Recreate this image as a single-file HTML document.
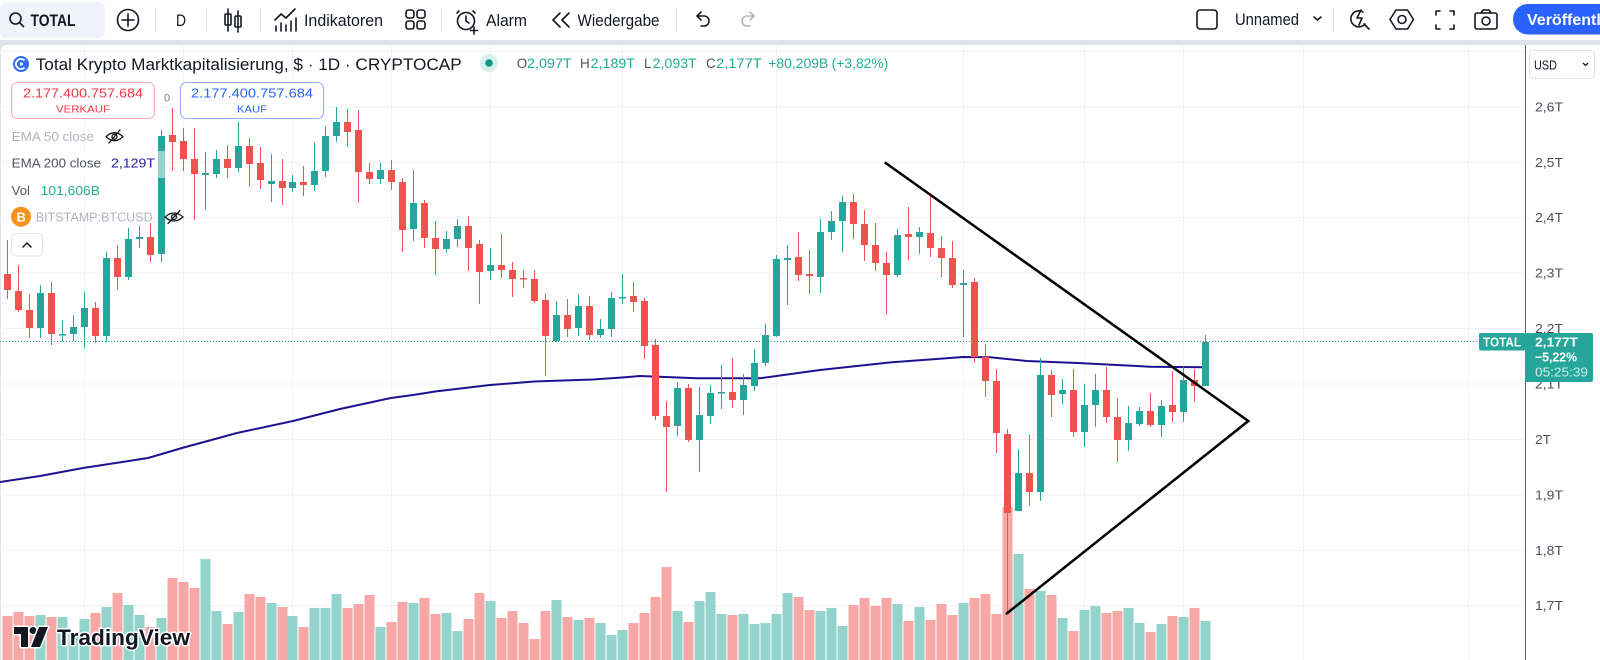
<!DOCTYPE html>
<html><head><meta charset="utf-8"><style>html,body{margin:0;padding:0;background:#fff;}svg{display:block}</style></head>
<body>
<svg width="1600" height="660" viewBox="0 0 1600 660" xmlns="http://www.w3.org/2000/svg" font-family="'Liberation Sans', Arial, sans-serif">
<rect width="1600" height="660" fill="#fff"/>
<rect y="40" width="1600" height="620" fill="#e0e3eb"/>
<rect x="1" y="45" width="1598" height="630" rx="6" fill="#fff"/>

<!-- toolbar -->
<rect x="0" y="2" width="105" height="36" rx="6" fill="#f0f3fa"/>
<g fill="none" stroke="#131722" stroke-width="1.6" stroke-linecap="round">
<circle cx="15.5" cy="18.5" r="5.5"/><path d="M19.5 22.5L23.5 26.5"/>
<circle cx="128" cy="20" r="10.5"/><path d="M128 14v12M122 20h12"/>
<path d="M228 9v22M238 11v21"/><rect x="225" y="14" width="6" height="11" rx="1"/><rect x="235" y="16" width="6" height="11" rx="1"/>
<path d="M275 20l6-6 5 4 9-9"/><path d="M276 31v-5M281 31v-8M286 31v-6M291 31v-10M296 31v-13"/>
<rect x="406" y="10" width="8" height="8" rx="2.5"/><rect x="417" y="10" width="8" height="8" rx="2.5"/><rect x="406" y="21" width="8" height="8" rx="2.5"/><rect x="417" y="21" width="8" height="8" rx="2.5"/>
<circle cx="466" cy="21" r="8.5"/><path d="M466 16v5l3 2M459 11l-2 2M473 11l2 2M474 27v7M470.5 30.5h7"/>
<path d="M560 13l-7 7 7 7M569 13l-7 7 7 7"/>
<path d="M697 16h7a5 5 0 0 1 0 10h-3M697 16l4-4M697 16l4 4"/>
</g>
<path d="M754 16h-7a5 5 0 0 0 0 10h3M754 16l-4-4M754 16l-4 4" fill="none" stroke="#b2b5be" stroke-width="1.6" stroke-linecap="round"/>
<g stroke="#e0e3eb" stroke-width="1"><path d="M155.5 8v24M206.5 8v24M260.5 8v24M441.5 8v24M676.5 8v24M1333.5 8v24"/></g>
<g fill="#131722" font-size="17">
<text x="30.5" y="26" font-weight="bold" textLength="45" lengthAdjust="spacingAndGlyphs">TOTAL</text>
<text x="176" y="26" textLength="10" lengthAdjust="spacingAndGlyphs">D</text>
<text x="304" y="26" textLength="79" lengthAdjust="spacingAndGlyphs">Indikatoren</text>
<text x="486" y="26" textLength="41" lengthAdjust="spacingAndGlyphs">Alarm</text>
<text x="577.5" y="26" textLength="82" lengthAdjust="spacingAndGlyphs">Wiedergabe</text>
<text x="1235" y="25" textLength="64" lengthAdjust="spacingAndGlyphs">Unnamed</text>
</g>
<g fill="none" stroke="#131722" stroke-width="1.6" stroke-linecap="round" stroke-linejoin="round">
<rect x="1197" y="10" width="20" height="19" rx="3"/>
<path d="M1314 17l3.5 3 3.5-3"/>
<path d="M1363 12a8 8 0 1 0 2 12M1361 10l-4 8h5l-3 7M1364 24l5 5"/>
<path d="M1396 10h11.5l6 9.5-6 9.5h-11.5l-6-9.5z"/><circle cx="1402" cy="19.5" r="4"/>
<path d="M1436 15v-4h4M1450 11h4v4M1454 25v4h-4M1440 29h-4v-4"/>
<rect x="1475" y="13" width="22" height="16" rx="2"/><path d="M1481 13l2-3h6l2 3"/><circle cx="1486" cy="21" r="4"/>
</g>
<rect x="1513" y="4" width="120" height="30.5" rx="15" fill="#2962ff"/>
<text x="1527" y="25" fill="#fff" font-size="16" font-weight="bold">Veröffentlichen</text>

<!-- grid -->
<g stroke="#eef1f6" stroke-width="1">
<path d="M84.5 45V660M183.5 45V660M292.5 45V660M391.5 45V660M490.5 45V660M622.5 45V660M776.5 45V660M963.5 45V660M1084.5 45V660M1183.5 45V660M1303.5 45V660M1468.5 45V660"/>
<path d="M0 51.5H1525M0 107H1525M0 162.5H1525M0 217.5H1525M0 273H1525M0 328.5H1525M0 384H1525M0 439.5H1525M0 495H1525M0 550.5H1525M0 605.5H1525"/>
</g>

<!-- volume -->
<path fill="#92d3cc" d="M35.5 615h10V660h-10zM57.5 617h10V660h-10zM68.5 632h10V660h-10zM79.5 619h10V660h-10zM101.5 607h10V660h-10zM123.5 605h10V660h-10zM134.5 615h10V660h-10zM156.5 618h10V660h-10zM200.5 559h10V660h-10zM211.5 611h10V660h-10zM233.5 612h10V660h-10zM266.5 603h10V660h-10zM287.5 616h10V660h-10zM309.5 608h10V660h-10zM320.5 608h10V660h-10zM331.5 594h10V660h-10zM375.5 627h10V660h-10zM408.5 603h10V660h-10zM441.5 613h10V660h-10zM452.5 631h10V660h-10zM485.5 601h10V660h-10zM551.5 600h10V660h-10zM573.5 620h10V660h-10zM595.5 623h10V660h-10zM606.5 635h10V660h-10zM617.5 630h10V660h-10zM672.5 611h10V660h-10zM694.5 601h10V660h-10zM705.5 592h10V660h-10zM716.5 614h10V660h-10zM738.5 614h10V660h-10zM749.5 624h10V660h-10zM760.5 623h10V660h-10zM771.5 614h10V660h-10zM782.5 593h10V660h-10zM815.5 611h10V660h-10zM826.5 608h10V660h-10zM837.5 626h10V660h-10zM892.5 604h10V660h-10zM914.5 607h10V660h-10zM958.5 603h10V660h-10zM1013.5 554h10V660h-10zM1035.5 591h10V660h-10zM1057.5 618h10V660h-10zM1079.5 610h10V660h-10zM1090.5 606h10V660h-10zM1123.5 608h10V660h-10zM1134.5 623h10V660h-10zM1156.5 624h10V660h-10zM1178.5 617h10V660h-10zM1200.5 621h10V660h-10z"/>
<path fill="#f7a8a6" d="M2.5 616h10V660h-10zM13.5 612h10V660h-10zM24.5 616h10V660h-10zM46.5 617h10V660h-10zM90.5 613h10V660h-10zM112.5 593h10V660h-10zM145.5 627h10V660h-10zM167.5 578h10V660h-10zM178.5 582h10V660h-10zM189.5 588h10V660h-10zM222.5 624h10V660h-10zM244.5 594h10V660h-10zM255.5 597h10V660h-10zM277.5 607h10V660h-10zM298.5 627h10V660h-10zM342.5 608h10V660h-10zM353.5 604h10V660h-10zM364.5 595h10V660h-10zM386.5 622h10V660h-10zM397.5 602h10V660h-10zM419.5 598h10V660h-10zM430.5 614h10V660h-10zM463.5 619h10V660h-10zM474.5 593h10V660h-10zM496.5 618h10V660h-10zM507.5 611h10V660h-10zM518.5 623h10V660h-10zM529.5 639h10V660h-10zM540.5 611h10V660h-10zM562.5 617h10V660h-10zM584.5 618h10V660h-10zM628.5 623h10V660h-10zM639.5 613h10V660h-10zM650.5 597h10V660h-10zM661.5 567h10V660h-10zM683.5 622h10V660h-10zM727.5 615h10V660h-10zM793.5 597h10V660h-10zM804.5 610h10V660h-10zM848.5 605h10V660h-10zM859.5 598h10V660h-10zM870.5 606h10V660h-10zM881.5 598h10V660h-10zM903.5 621h10V660h-10zM925.5 620h10V660h-10zM936.5 604h10V660h-10zM947.5 615h10V660h-10zM969.5 598h10V660h-10zM980.5 594h10V660h-10zM991.5 614h10V660h-10zM1002.5 507h10V660h-10zM1024.5 589h10V660h-10zM1046.5 595h10V660h-10zM1068.5 631h10V660h-10zM1101.5 613h10V660h-10zM1112.5 611h10V660h-10zM1145.5 632h10V660h-10zM1167.5 616h10V660h-10zM1189.5 608h10V660h-10z"/>

<!-- price line -->
<path d="M0 341.5H1479" stroke="#26a69a" stroke-width="1" stroke-dasharray="1 2"/>

<!-- EMA 200 -->
<polyline fill="none" stroke="#1f1290" stroke-width="2" stroke-linejoin="round" points="0,482 40,476 83,468 148,458 182,448 237,433 293,421 340,409 391,398 413,395 435,391.5 490,385 534,381.5 593,379.5 622,377.5 640,376 697,378.3 760,378.3 820,370 887,362.7 950,358 963,357 990,357.3 1027,361 1083,363.3 1117,365 1150,366.7 1205,367.3"/>

<!-- candles -->
<path stroke="#26a69a" stroke-width="1" fill="none" d="M40.5 285V338M62.5 320V342M73.5 315V341M84.5 292V348M106.5 252V342M128.5 228V280M139.5 226V248M161.5 130V262M205.5 152V210M216.5 150V178M238.5 122V172M271.5 154V202M292.5 175V192M314.5 142V191M325.5 126V177M336.5 107V142M380.5 163V184M413.5 170V241M446.5 231V253M457.5 219V247M490.5 248V280M556.5 301V342M578.5 294V336M600.5 319V338M611.5 292V337M622.5 274V304M677.5 382V436M699.5 387V472M710.5 385V424M721.5 365V409M743.5 374V415M754.5 349V391M765.5 324V366M776.5 255V337M787.5 245V305M820.5 219V293M831.5 211V240M842.5 196V252M897.5 229V277M919.5 227V254M963.5 270V337M1018.5 449V511M1040.5 358V501M1062.5 379V404M1084.5 384V447M1095.5 374V427M1128.5 406V451M1139.5 407V426M1161.5 400V437M1183.5 367V422M1205.5 335V386"/>
<path fill="#26a69a" d="M37 293h7v35h-7zM59 334h7v1.5h-7zM70 327h7v7h-7zM81 308h7v19h-7zM103 258h7v78h-7zM125 239h7v38h-7zM136 237h7v2h-7zM158 136h7v118h-7zM202 173h7v2h-7zM213 159h7v15h-7zM235 146h7v22h-7zM268 181h7v3h-7zM289 182h7v6h-7zM311 171h7v14h-7zM322 136h7v35h-7zM333 122h7v14h-7zM377 170h7v9h-7zM410 203h7v26h-7zM443 239h7v10h-7zM454 226h7v13h-7zM487 265h7v6h-7zM553 315h7v26h-7zM575 306h7v22h-7zM597 329h7v6h-7zM608 298h7v31h-7zM619 297h7v1.5h-7zM674 388h7v38h-7zM696 415h7v25h-7zM707 393h7v23h-7zM718 392h7v1.5h-7zM740 385h7v15h-7zM751 363h7v23h-7zM762 335h7v28h-7zM773 259h7v77h-7zM784 258h7v2h-7zM817 232h7v45h-7zM828 221h7v11h-7zM839 202h7v19h-7zM894 235h7v40h-7zM916 232h7v5h-7zM960 283h7v2h-7zM1015 473h7v38h-7zM1037 375h7v117h-7zM1059 390h7v4h-7zM1081 405h7v27h-7zM1092 390h7v15h-7zM1125 423h7v17h-7zM1136 411h7v13h-7zM1158 406h7v19h-7zM1180 380h7v32h-7zM1202 342h7v44h-7z"/>
<path stroke="#ef5350" stroke-width="1" fill="none" d="M7.5 240V299M18.5 265V312M29.5 294V338M51.5 282V345M95.5 302V343M117.5 245V290M150.5 223V262M172.5 108V171M183.5 128V171M194.5 128V220M227.5 145V178M249.5 138V187M260.5 147V189M282.5 159V205M303.5 166V196M347.5 109V147M358.5 110V203M369.5 163V184M391.5 160V190M402.5 178V252M424.5 200V248M435.5 221V275M468.5 216V271M479.5 240V304M501.5 234V278M512.5 262V297M523.5 270V288M534.5 270V303M545.5 293V376M567.5 299V337M589.5 296V340M633.5 282V312M644.5 298V359M655.5 339V420M666.5 401V492M688.5 384V442M732.5 358V408M798.5 232V281M809.5 250V294M853.5 194V239M864.5 210V261M875.5 223V271M886.5 252V315M908.5 207V260M930.5 193V257M941.5 236V277M952.5 241V288M974.5 278V363M985.5 344V397M996.5 369V453M1007.5 429V613M1029.5 435V506M1051.5 370V417M1073.5 369V437M1106.5 367V423M1117.5 398V462M1150.5 393V427M1172.5 371V422M1194.5 369V402"/>
<path fill="#ef5350" d="M4 274h7v16h-7zM15 291h7v19h-7zM26 310h7v18h-7zM48 293h7v41h-7zM92 308h7v28h-7zM114 258h7v19h-7zM147 237h7v18h-7zM169 135h7v7h-7zM180 141h7v18h-7zM191 159h7v15h-7zM224 159h7v9h-7zM246 146h7v18h-7zM257 163h7v17h-7zM279 181h7v7h-7zM300 182h7v3h-7zM344 122h7v10h-7zM355 130h7v42h-7zM366 172h7v7h-7zM388 170h7v12h-7zM399 182h7v48h-7zM421 203h7v35h-7zM432 238h7v11h-7zM465 226h7v22h-7zM476 244h7v28h-7zM498 265h7v5h-7zM509 270h7v9h-7zM520 278h7v1.5h-7zM531 279h7v22h-7zM542 300h7v36h-7zM564 315h7v14h-7zM586 306h7v29h-7zM630 296h7v6h-7zM641 301h7v45h-7zM652 345h7v71h-7zM663 416h7v11h-7zM685 388h7v52h-7zM729 392h7v8h-7zM795 257h7v18h-7zM806 274h7v2h-7zM850 202h7v22h-7zM861 224h7v21h-7zM872 245h7v18h-7zM883 263h7v12h-7zM905 234h7v3h-7zM927 233h7v15h-7zM938 248h7v10h-7zM949 258h7v27h-7zM971 282h7v75h-7zM982 357h7v24h-7zM993 381h7v52h-7zM1004 434h7v79h-7zM1026 473h7v19h-7zM1048 375h7v20h-7zM1070 390h7v42h-7zM1103 390h7v27h-7zM1114 417h7v23h-7zM1147 411h7v14h-7zM1169 405h7v7h-7zM1191 380h7v6h-7z"/>

<!-- triangle drawing -->
<polyline fill="none" stroke="#000" stroke-width="2.5" stroke-linejoin="miter" stroke-linecap="round" points="885.7,163 1248.3,421 1006.7,613.5"/>

<!-- legend -->
<circle cx="21" cy="64" r="8" fill="#2f6cf6"/>
<path d="M24.5 60.5a5 5 0 1 0 0 7" fill="none" stroke="#fff" stroke-width="1.8"/><circle cx="21.5" cy="64" r="1.6" fill="#fff"/>
<text x="35.7" y="70" font-size="17" fill="#131722" textLength="426" lengthAdjust="spacingAndGlyphs">Total Krypto Marktkapitalisierung, $ · 1D · CRYPTOCAP</text>
<circle cx="489" cy="63" r="9" fill="#d7f0ec"/><circle cx="489" cy="63" r="3.8" fill="#089981"/>
<g font-size="13.5">
<text x="516.7" y="68" fill="#50535e">O</text><text x="527" y="68" fill="#22ab94" textLength="44.7" lengthAdjust="spacingAndGlyphs">2,097T</text>
<text x="580" y="68" fill="#50535e">H</text><text x="590.7" y="68" fill="#22ab94" textLength="44.3" lengthAdjust="spacingAndGlyphs">2,189T</text>
<text x="644" y="68" fill="#50535e">L</text><text x="652.7" y="68" fill="#22ab94" textLength="44" lengthAdjust="spacingAndGlyphs">2,093T</text>
<text x="706" y="68" fill="#50535e">C</text><text x="716" y="68" fill="#22ab94" textLength="45.7" lengthAdjust="spacingAndGlyphs">2,177T</text>
<text x="768.3" y="68" fill="#22ab94" textLength="60" lengthAdjust="spacingAndGlyphs">+80,209B</text>
<text x="831.7" y="68" fill="#22ab94" textLength="56.6" lengthAdjust="spacingAndGlyphs">(+3,82%)</text>
</g>

<rect x="11.5" y="82.5" width="143" height="36" rx="6" fill="#fff" stroke="#f7a9ad"/>
<text x="23" y="97.7" font-size="12.5" fill="#f23645" textLength="120" lengthAdjust="spacingAndGlyphs">2.177.400.757.684</text>
<text x="56" y="112.7" font-size="10.5" fill="#f23645" textLength="54" lengthAdjust="spacingAndGlyphs">VERKAUF</text>
<text x="164" y="101.7" font-size="11" fill="#787b86">0</text>
<rect x="180.5" y="82.5" width="143" height="36" rx="6" fill="#fff" stroke="#91aefc"/>
<text x="191" y="97.7" font-size="12.5" fill="#2962ff" textLength="122" lengthAdjust="spacingAndGlyphs">2.177.400.757.684</text>
<text x="237" y="112.7" font-size="10.5" fill="#2962ff" textLength="30" lengthAdjust="spacingAndGlyphs">KAUF</text>

<rect x="8" y="151" width="158" height="27" fill="#fff" fill-opacity="0.5"/>
<g font-size="13">
<text x="11.7" y="141" fill="#b2b5be" textLength="82.3" lengthAdjust="spacingAndGlyphs">EMA 50 close</text>
<text x="11.7" y="167.7" fill="#50535e" textLength="89.3" lengthAdjust="spacingAndGlyphs">EMA 200 close</text>
<text x="111" y="167.7" fill="#2b1e98" textLength="44" lengthAdjust="spacingAndGlyphs">2,129T</text>
<text x="11.7" y="195" fill="#50535e" textLength="18.3" lengthAdjust="spacingAndGlyphs">Vol</text>
<text x="40.7" y="195" fill="#22ab94" textLength="59.3" lengthAdjust="spacingAndGlyphs">101,606B</text>
<text x="35.7" y="221.7" fill="#b2b5be" textLength="117" lengthAdjust="spacingAndGlyphs">BITSTAMP:BTCUSD</text>
</g>
<g fill="none" stroke="#131722" stroke-width="1.3" stroke-linecap="round">
<path d="M106 136.7q8.5-8 17 0q-8.5 8-17 0z"/><circle cx="114.5" cy="136.7" r="2.5"/><path d="M109 143l11-13"/>
<path d="M165 217q9-8 18 0q-9 8-18 0z"/><circle cx="174" cy="217" r="2.5"/><path d="M168 223.5l12-13"/>
</g>
<circle cx="21" cy="216.7" r="10" fill="#f7931a"/>
<text x="16.5" y="221.5" font-size="13" font-weight="bold" fill="#fff">B</text>
<rect x="11.5" y="233.5" width="31" height="22.5" rx="4" fill="#fff" stroke="#e0e3eb"/>
<path d="M23 247l4-4 4 4" fill="none" stroke="#131722" stroke-width="1.5" stroke-linecap="round" stroke-linejoin="round"/>

<!-- TradingView logo -->
<g stroke="#fff" stroke-width="3" paint-order="stroke" stroke-linejoin="round">
<path d="M14 627H28V647H21V634H14Z" fill="#131722"/>
<circle cx="33" cy="630.5" r="3.5" fill="#131722"/>
<path d="M39 627H48L40 647H31Z" fill="#131722"/>
<text x="57" y="645" font-size="22" font-weight="bold" fill="#131722" textLength="133" lengthAdjust="spacingAndGlyphs">TradingView</text>
</g>

<!-- price axis -->
<rect x="1526" y="45" width="74" height="615" fill="#fff"/>
<path d="M1525.5 45V660" stroke="#5d606b" stroke-width="1"/>
<rect x="1529.5" y="50.5" width="65" height="28" rx="4" fill="#fff" stroke="#e0e3eb"/>
<text x="1534" y="69.3" font-size="13" fill="#131722" textLength="23" lengthAdjust="spacingAndGlyphs">USD</text>
<path d="M1583 63l2.5 2.5 2.5-2.5" fill="none" stroke="#131722" stroke-width="1.3"/>
<g font-size="13" fill="#4c4f5a">
<text x="1535" y="111.5" textLength="28" lengthAdjust="spacingAndGlyphs">2,6T</text>
<text x="1535" y="167" textLength="28" lengthAdjust="spacingAndGlyphs">2,5T</text>
<text x="1535" y="222" textLength="28" lengthAdjust="spacingAndGlyphs">2,4T</text>
<text x="1535" y="277.5" textLength="28" lengthAdjust="spacingAndGlyphs">2,3T</text>
<text x="1535" y="333" textLength="28" lengthAdjust="spacingAndGlyphs">2,2T</text>
<text x="1535" y="388.5" textLength="28" lengthAdjust="spacingAndGlyphs">2,1T</text>
<text x="1535" y="444" textLength="16" lengthAdjust="spacingAndGlyphs">2T</text>
<text x="1535" y="499.5" textLength="28" lengthAdjust="spacingAndGlyphs">1,9T</text>
<text x="1535" y="555" textLength="28" lengthAdjust="spacingAndGlyphs">1,8T</text>
<text x="1535" y="610" textLength="28" lengthAdjust="spacingAndGlyphs">1,7T</text>
</g>
<rect x="1479" y="333" width="46" height="17.5" rx="1.5" fill="#26a69a"/>
<text x="1483" y="346.5" font-size="12.5" font-weight="bold" fill="#fff" textLength="38" lengthAdjust="spacingAndGlyphs">TOTAL</text>
<rect x="1525" y="333" width="68" height="49" rx="2" fill="#26a69a"/>
<text x="1535" y="346.5" font-size="13" font-weight="bold" fill="#fff" textLength="43" lengthAdjust="spacingAndGlyphs">2,177T</text>
<text x="1535" y="361.7" font-size="13" font-weight="bold" fill="#fff" textLength="42" lengthAdjust="spacingAndGlyphs">−5,22%</text>
<text x="1535" y="376.7" font-size="13" fill="#cdeee9" textLength="53" lengthAdjust="spacingAndGlyphs">05:25:39</text>
</svg>
</body></html>
